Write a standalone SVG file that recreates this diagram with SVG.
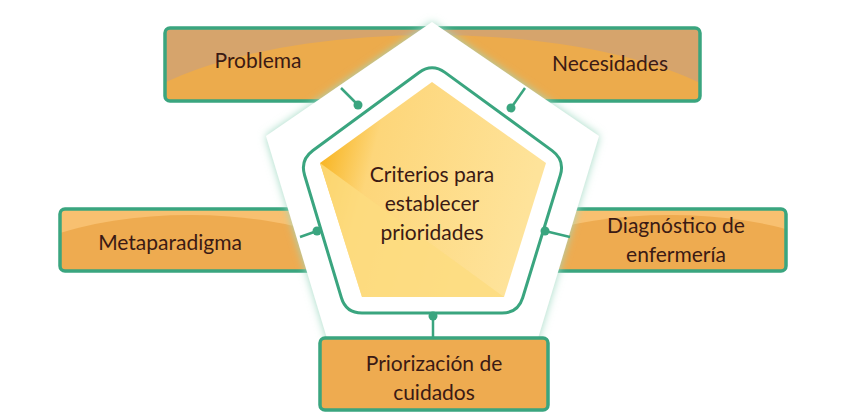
<svg xmlns="http://www.w3.org/2000/svg" width="850" height="420" viewBox="0 0 850 420">
<defs>
<style>
.box{stroke:#3aa57f;stroke-width:3.5}
.t{font-family:Lato,"Open Sans",sans-serif;font-size:21px;fill:#3b1a14;text-anchor:middle}
.c{stroke:#3aa57f;stroke-width:2.5;fill:none}
.d{fill:#3aa57f}
</style>
<linearGradient id="yg" x1="0" y1="0" x2="1" y2="0.25">
<stop offset="0" stop-color="#f6a800"/><stop offset="0.3" stop-color="#fdd67a"/><stop offset="1" stop-color="#fee39a"/>
</linearGradient>
<filter id="glow" x="-20%" y="-20%" width="140%" height="140%"><feGaussianBlur in="SourceAlpha" stdDeviation="5"/><feFlood flood-color="#9fd9c2"/><feComposite operator="in" in2="SourceAlpha"/><feGaussianBlur stdDeviation="4"/><feMerge><feMergeNode/><feMergeNode in="SourceGraphic"/></feMerge></filter>
<clipPath id="c1"><rect x="165" y="28" width="535" height="73" rx="5"/></clipPath>
<clipPath id="c2"><rect x="60" y="209" width="255" height="62" rx="5"/></clipPath>
<clipPath id="c3"><rect x="552" y="209" width="234" height="62" rx="5"/></clipPath>
<clipPath id="c4"><rect x="320" y="338" width="228" height="72" rx="5"/></clipPath>
</defs>
<g id="problema-necesidades">
<g clip-path="url(#c1)"><rect x="165" y="28" width="535" height="73" fill="#d6a46c"/><ellipse cx="432" cy="150" rx="330" ry="115" fill="#ecab4c"/></g>
<rect class="box" x="165" y="28" width="535" height="73" rx="5" fill="none"/>
</g>
<g id="metaparadigma">
<g clip-path="url(#c2)"><rect x="60" y="209" width="255" height="62" fill="#f8c070"/><ellipse cx="190" cy="290" rx="200" ry="75" fill="#eeab50"/></g>
<rect class="box" x="60" y="209" width="255" height="62" rx="5" fill="none"/>
<text class="t" x="170" y="250">Metaparadigma</text>
</g>
<g id="diagnostico">
<g clip-path="url(#c3)"><rect x="552" y="209" width="234" height="62" fill="#f8c070"/><ellipse cx="670" cy="290" rx="200" ry="75" fill="#eeab50"/></g>
<rect class="box" x="552" y="209" width="234" height="62" rx="5" fill="none"/>
<text class="t" x="676" y="233">Diagnóstico de</text>
<text class="t" x="676" y="262">enfermería</text>
</g>
<polygon points="432,22 266,136 329,345 536,345 599,136" fill="#fff" filter="url(#glow)"/>
<text class="t" x="258" y="68">Problema</text>
<text class="t" x="610" y="71">Necesidades</text>
<g id="criterios">
<path d="M444.9,72.4 L552.1,150.6 Q565,160 560.3,175.3 L522.7,297.7 Q518,313 502,313 L362,313 Q346,313 341.4,297.7 L304.6,175.3 Q300,160 312.9,150.5 L419.1,72.5 Q432,63 444.9,72.4 Z" fill="#fff" stroke="#3aa57f" stroke-width="3"/>
<polygon points="432,82 546,163 504,297 362,297 320,163" fill="url(#yg)"/>
<polygon points="320,163 504,297 362,297" fill="#fddc80" opacity="0.8"/>
<text class="t" x="432" y="182">Criterios para</text>
<text class="t" x="432" y="211">establecer</text>
<text class="t" x="432" y="240">prioridades</text>
</g>
<g id="priorizacion">
<g clip-path="url(#c4)"><rect x="320" y="338" width="228" height="72" fill="#eeab50"/></g>
<rect class="box" x="320" y="338" width="228" height="72" rx="5" fill="none"/>
<text class="t" x="434" y="371">Priorización de</text>
<text class="t" x="434" y="400">cuidados</text>
</g>
<g id="connectors">
<line class="c" x1="341" y1="88" x2="358" y2="105"/><circle class="d" cx="358" cy="105" r="4.5"/>
<line class="c" x1="525" y1="88" x2="511" y2="108"/><circle class="d" cx="511" cy="108" r="4.5"/>
<line class="c" x1="300" y1="237" x2="317" y2="231"/><circle class="d" cx="317" cy="231" r="4.5"/>
<line class="c" x1="570" y1="237" x2="545" y2="231"/><circle class="d" cx="545" cy="231" r="4.5"/>
<line class="c" x1="433" y1="316" x2="433" y2="338"/><circle class="d" cx="433" cy="316" r="4.5"/>
</g>
</svg>
